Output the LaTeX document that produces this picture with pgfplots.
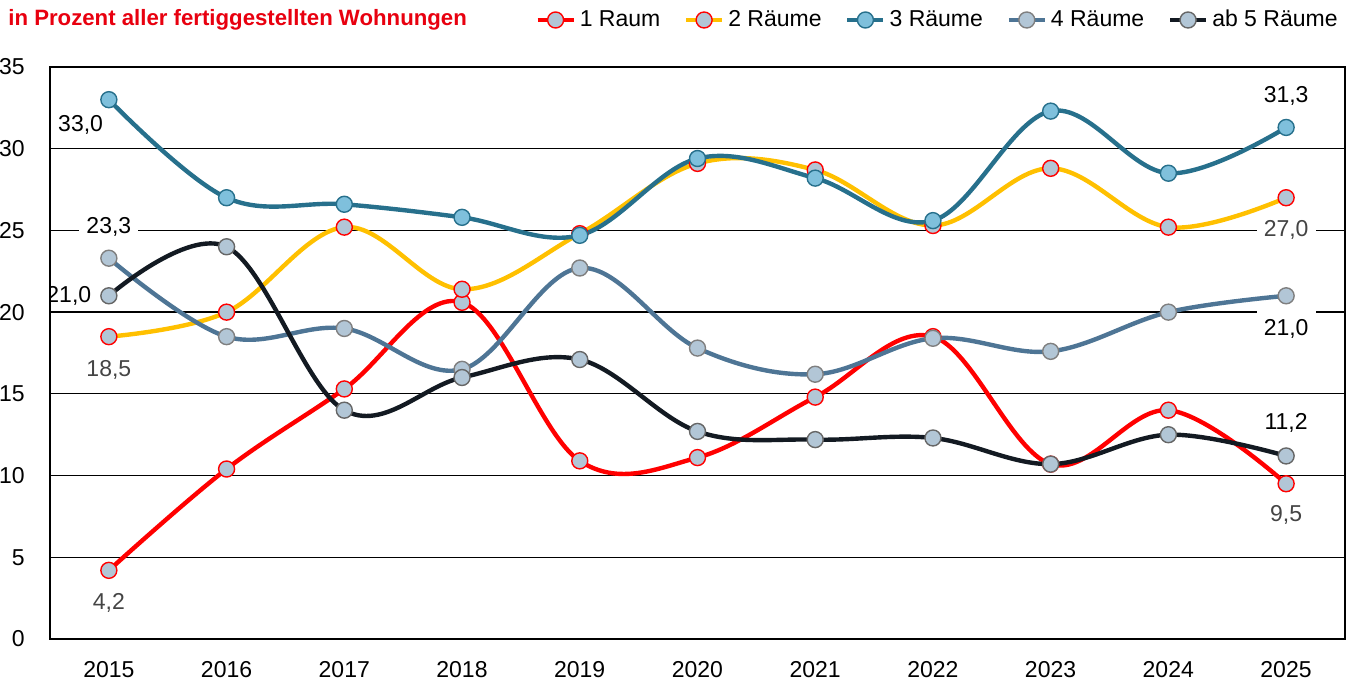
\documentclass[border=0pt]{standalone}
\usepackage{fontspec}
\setmainfont{Liberation Sans}
\usepackage{pgfplots}
\pgfplotsset{compat=1.18}
\definecolor{cred}{HTML}{FF0000}
\definecolor{cyel}{HTML}{FFC000}
\definecolor{cteal}{HTML}{27708C}
\definecolor{csteel}{HTML}{4E7595}
\definecolor{cblack}{HTML}{131A22}
\definecolor{mfill}{HTML}{B2C6D6}
\definecolor{mblue}{HTML}{7FC0DC}
\definecolor{mgray}{HTML}{7F7F7F}
\definecolor{titlered}{HTML}{E8000F}
\definecolor{lblgray}{HTML}{444444}
\begin{document}
\fontsize{11.5pt}{13pt}\selectfont
\begin{tikzpicture}
\begin{axis}[
  scale only axis, width=647.5pt, height=286pt,
  xmin=2014.5, xmax=2025.5, ymin=0, ymax=35,
  xtick={2015,...,2025}, ytick={0,5,...,35},
  x tick label style={/pgf/number format/1000 sep={}},
  /pgf/number format/assume math mode=true,
  major tick length=0pt,
  ymajorgrids, grid style={black, line width=0.65pt},
  axis line style={black, line width=1pt},
  yticklabel style={inner sep=0pt, anchor=east, xshift=-12.5pt},
  xticklabel style={inner sep=0pt, anchor=north, yshift=-11pt},
  every axis plot/.append style={line width=2.2pt, smooth, tension=0.6, mark=*, mark size=4pt},
  legend style={at={(1,1)}, anchor=east, xshift=-1.5pt, yshift=23.5pt, draw=none, fill=none, inner sep=0pt,
    legend columns=5, /tikz/every even column/.append style={column sep=9.8pt}},
  legend image code/.code={\draw[mark repeat=2,mark phase=2] plot coordinates {(0pt,0pt) (9pt,0pt) (18pt,0pt)};},
  legend cell align=left,
]
\node[fill=white, inner sep=3.5pt, text=black] at (axis cs:2015,25.2) {23,3};
\node[fill=white, inner sep=3.5pt, text=lblgray] at (axis cs:2025,25.03) {27,0};
\node[fill=white, inner xsep=3.5pt, minimum height=38pt, text=black] at (axis cs:2025,18.97) {21,0};
\node[text=black] at (axis cs:2014.76,31.46) {33,0};
\node[text=black] at (axis cs:2014.66,21.0) {21,0};
\node[text=lblgray] at (axis cs:2015,16.46) {18,5};
\node[text=lblgray] at (axis cs:2015,2.2) {4,2};
\node[text=black] at (axis cs:2025,33.23) {31,3};
\node[text=black] at (axis cs:2025,13.2) {11,2};
\node[text=lblgray] at (axis cs:2025,7.6) {9,5};

\addplot[cred, mark options={fill=mfill, draw=cred, line width=0.7pt}] coordinates {
(2015,4.2) (2016,10.4) (2017,15.3) (2018,20.6) (2019,10.9) (2020,11.1) (2021,14.8) (2022,18.5) (2023,10.7) (2024,14.0) (2025,9.5)};
\addlegendentry{1 Raum}
\addplot[cyel, mark options={fill=mfill, draw=cred, line width=0.7pt}] coordinates {
(2015,18.5) (2016,20.0) (2017,25.2) (2018,21.4) (2019,24.8) (2020,29.1) (2021,28.7) (2022,25.3) (2023,28.8) (2024,25.2) (2025,27.0)};
\addlegendentry{2 Räume}
\addplot[cteal, mark options={fill=mblue, draw=cteal, line width=0.7pt}] coordinates {
(2015,33.0) (2016,27.0) (2017,26.6) (2018,25.8) (2019,24.7) (2020,29.4) (2021,28.2) (2022,25.6) (2023,32.3) (2024,28.5) (2025,31.3)};
\addlegendentry{3 Räume}
\addplot[csteel, mark options={fill=mfill, draw=mgray, line width=0.7pt}] coordinates {
(2015,23.3) (2016,18.5) (2017,19.0) (2018,16.5) (2019,22.7) (2020,17.8) (2021,16.2) (2022,18.4) (2023,17.6) (2024,20.0) (2025,21.0)};
\addlegendentry{4 Räume}
\addplot[cblack, mark options={fill=mfill, draw=mgray!80!black, line width=0.7pt}] coordinates {
(2015,21.0) (2016,24.0) (2017,14.0) (2018,16.0) (2019,17.1) (2020,12.7) (2021,12.2) (2022,12.3) (2023,10.7) (2024,12.5) (2025,11.2)};
\addlegendentry{ab 5 Räume}
\end{axis}
\node[anchor=west, font=\fontsize{11.1pt}{13pt}\selectfont\bfseries, text=titlered, inner sep=0pt] at (-21pt,309.5pt) {in Prozent aller fertiggestellten Wohnungen};
\pgfresetboundingbox
\path[use as bounding box] (-25pt,-22pt) rectangle (656pt,319.5pt);
\end{tikzpicture}
\end{document}
